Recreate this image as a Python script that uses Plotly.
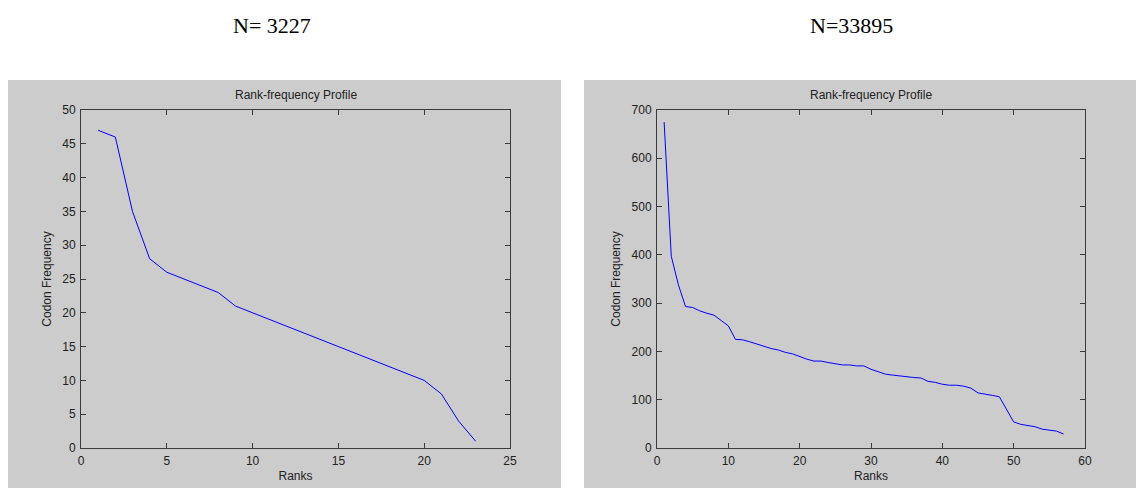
import plotly.graph_objects as go

# ---- data ----
ranks_a = list(range(1, 24))
freq_a = [47, 46, 35, 28, 26, 25, 24, 23, 21, 20, 19, 18, 17, 16, 15, 14, 13, 12, 11, 10, 8, 4, 1]

ranks_b = list(range(1, 58))
freq_b = [675, 397, 338, 293, 291, 284, 279, 275, 264, 253,
          225, 224, 220, 215, 210, 206, 203, 198, 195, 189,
          184, 180, 180, 177, 175, 172, 172, 170, 170, 163,
          158, 153, 151, 149, 147, 146, 145, 138, 136, 132,
          130, 130, 128, 124, 114, 112, 109, 106, 79, 54,
          49, 47, 44, 39, 37, 35, 29]

panel_titles = ["N= 3227", "N=33895"]
axes_title = "Rank-frequency Profile"
x_label = "Ranks"
y_label = "Codon Frequency"

W, H = 1138, 489

def fx(px):
    return px / W

def fy(py):
    return 1 - py / H

fig = go.Figure()
fig.add_trace(go.Scatter(x=ranks_a, y=freq_a, mode="lines",
                         line=dict(color="#0000FF", width=1),
                         xaxis="x", yaxis="y", showlegend=False))
fig.add_trace(go.Scatter(x=ranks_b, y=freq_b, mode="lines",
                         line=dict(color="#0000FF", width=1),
                         xaxis="x2", yaxis="y2", showlegend=False))

tick_font = dict(family="Liberation Sans, Arial, sans-serif", size=12, color="#222222")
axis_common = dict(showgrid=False, zeroline=False, showline=True, linecolor="#3a3a3a",
                   linewidth=1, mirror="ticks", ticks="inside", ticklen=5,
                   tickcolor="#3a3a3a", tickwidth=1, tickfont=tick_font,
                   ticklabelstandoff=2, automargin=False)

# left axes: x 81..510, y 110..448 (pixels)
fig.update_layout(
    xaxis=dict(domain=[fx(81), fx(510)], range=[0, 25], dtick=5, anchor="y",
               title=dict(text=x_label, font=tick_font, standoff=4), **axis_common),
    yaxis=dict(domain=[fy(448), fy(110)], range=[0, 50], dtick=5, anchor="x",
               title=dict(text=y_label, font=tick_font, standoff=8), **axis_common),
    xaxis2=dict(domain=[fx(657), fx(1085)], range=[0, 60], dtick=10, anchor="y2",
                title=dict(text=x_label, font=tick_font, standoff=4), **axis_common),
    yaxis2=dict(domain=[fy(448), fy(110)], range=[0, 700], dtick=100, anchor="x2",
                title=dict(text=y_label, font=tick_font, standoff=8), **axis_common),
)

shapes = []
for x0, x1 in [(8, 561), (584, 1136)]:
    shapes.append(dict(type="rect", xref="paper", yref="paper",
                       x0=fx(x0), x1=fx(x1), y0=fy(488), y1=fy(80),
                       fillcolor="#CCCCCC", line=dict(width=0), layer="below"))

annotations = []
for cx, txt in [(272, panel_titles[0]), (851, panel_titles[1])]:
    annotations.append(dict(x=fx(cx), y=fy(26), xref="paper", yref="paper",
                            text=txt, showarrow=False, xanchor="center", yanchor="middle",
                            font=dict(family="Liberation Serif, Times New Roman, serif",
                                      size=22, color="#000000")))
for cx in [(81 + 510) / 2, (657 + 1085) / 2]:
    annotations.append(dict(x=fx(cx), y=fy(95), xref="paper", yref="paper",
                            text=axes_title, showarrow=False, xanchor="center", yanchor="middle",
                            font=tick_font))

fig.update_layout(
    width=W, height=H,
    margin=dict(l=0, r=0, t=0, b=0, autoexpand=False),
    paper_bgcolor="#FFFFFF",
    plot_bgcolor="#FFFFFF",
    shapes=shapes,
    annotations=annotations,
    showlegend=False,
)

fig.write_html("out.html")
